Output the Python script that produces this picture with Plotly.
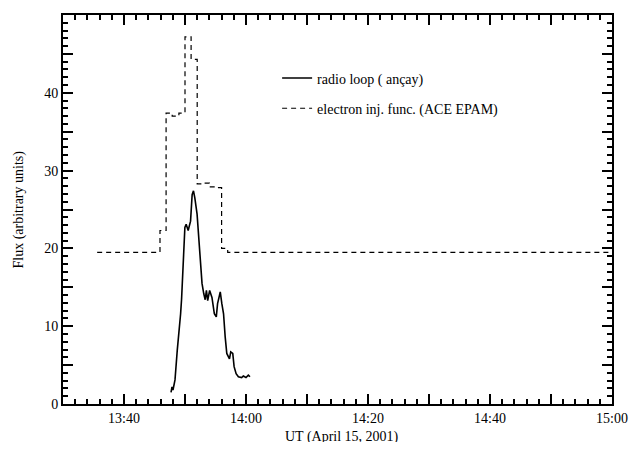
import pandas as pd
import plotly.graph_objects as go

# Time base: minutes after 13:00 UT on 2001-04-15
base = pd.Timestamp("2001-04-15 13:00:00")

# Radio loop flux (Nançay), solid curve
radio_min = [47.71, 47.87, 48.03, 48.36, 48.73, 49.01, 49.28, 49.44, 49.57, 49.66,
             49.82, 49.98, 50.19, 50.52, 50.91, 51.17, 51.39, 51.61, 51.98, 52.25,
             52.53, 52.79, 53.07, 53.31, 53.51, 53.72, 54.04, 54.42, 54.81, 55.13,
             55.34, 55.78, 56.04, 56.32, 56.59, 56.85, 57.29, 57.50, 57.83, 58.05,
             58.38, 58.75, 59.29, 59.56, 60.00, 60.38, 60.65]
radio_flux = [1.5, 2.2, 1.8, 3.1, 6.9, 9.1, 11.6, 13.5, 15.5, 18.0,
              21.0, 22.7, 23.1, 22.3, 23.5, 26.9, 27.4, 26.5, 24.4, 21.4,
              18.0, 15.5, 14.2, 13.4, 14.6, 13.3, 14.6, 13.7, 11.6, 11.2,
              12.9, 14.4, 12.9, 11.6, 8.6, 6.5, 5.8, 6.7, 6.5, 4.8,
              3.9, 3.5, 3.4, 3.6, 3.4, 3.7, 3.5]

# Electron injection function (ACE EPAM), step curve: value from each start time
epam_min = [35.6, 45.9, 46.9, 47.9, 49.0, 50.0, 51.0, 52.0, 53.0, 54.0, 55.0, 56.0, 57.0, 120.0]
epam_flux = [19.5, 22.3, 37.4, 37.0, 37.4, 47.2, 44.3, 28.3, 28.4, 27.9, 27.8, 20.0, 19.5, 19.5]

radio_t = [base + pd.Timedelta(minutes=m) for m in radio_min]
epam_t = [base + pd.Timedelta(minutes=m) for m in epam_min]

font = "Liberation Serif"
tfont = dict(family=font, size=14, color="black")

fig = go.Figure()
fig.add_trace(go.Scatter(
    x=radio_t, y=radio_flux, mode="lines", name="radio loop ( ançay)",
    legendgroup="a", line=dict(color="black", width=1.6)
))
fig.add_trace(go.Scatter(
    x=epam_t, y=epam_flux, mode="lines", name="electron inj. func. (ACE EPAM)",
    legendgroup="b", line=dict(color="black", width=1.2, dash="5px,4px", shape="hv")
))
# invisible copy on the overlay axes that carry the short (minor) ticks
fig.add_trace(go.Scatter(
    x=epam_t, y=epam_flux, xaxis="x2", yaxis="y2", mode="lines",
    line=dict(color="rgba(0,0,0,0)"), showlegend=False, hoverinfo="skip"
))

# Long ticks every 10 min / 5 units (labels every 20 min / 10 units), short every 2 min / 1 unit
x_mins = list(range(30, 121, 10))
x_ticks = [base + pd.Timedelta(minutes=m) for m in x_mins]
x_text = ["" if (m % 20) else f"{13 + m // 60}:{m % 60:02d}" for m in x_mins]
x_minor = [base + pd.Timedelta(minutes=m) for m in range(30, 121, 2)]
y_ticks = list(range(0, 51, 5))
y_text = [str(v) if v % 10 == 0 else "" for v in y_ticks]
y_minor = list(range(0, 51, 1))

x_range = [x_ticks[0], x_ticks[-1]]

fig.update_layout(
    width=625, height=434,
    margin=dict(l=55, r=16, t=5, b=38),
    paper_bgcolor="white", plot_bgcolor="white",
    font=tfont,
    xaxis=dict(
        type="date", range=x_range,
        tickmode="array", tickvals=x_ticks, ticktext=x_text,
        showline=True, linecolor="black", linewidth=2, mirror="allticks",
        ticks="inside", ticklen=10, tickwidth=2, tickcolor="black",
        showgrid=False, zeroline=False, tickfont=tfont,
    ),
    yaxis=dict(
        range=[0, 50],
        tickmode="array", tickvals=y_ticks, ticktext=y_text,
        showline=True, linecolor="black", linewidth=2, mirror="allticks",
        ticks="inside", ticklen=10, tickwidth=2, tickcolor="black",
        showgrid=False, zeroline=False, tickfont=tfont,
    ),
    xaxis2=dict(
        type="date", range=x_range, overlaying="x", anchor="y", side="bottom",
        tickmode="array", tickvals=x_minor, showticklabels=False,
        showline=False, mirror="allticks",
        ticks="inside", ticklen=5, tickwidth=2, tickcolor="black",
        showgrid=False, zeroline=False,
    ),
    yaxis2=dict(
        range=[0, 50], overlaying="y", anchor="x", side="left",
        tickmode="array", tickvals=y_minor, showticklabels=False,
        showline=False, mirror="allticks",
        ticks="inside", ticklen=5, tickwidth=2, tickcolor="black",
        showgrid=False, zeroline=False,
    ),
    legend=dict(x=0.39, y=0.878, xanchor="left", yanchor="top",
                bgcolor="rgba(0,0,0,0)", tracegroupgap=9, font=tfont),
    annotations=[
        dict(text="UT (April 15, 2001)", xref="paper", yref="paper", x=0.5, y=0,
             xanchor="center", yanchor="top", xshift=4, yshift=-23,
             showarrow=False, font=tfont),
        dict(text="Flux (arbitrary units)", xref="paper", yref="paper", x=0, y=0.5,
             xanchor="center", yanchor="middle", xshift=-45, textangle=-90,
             showarrow=False, font=tfont),
    ],
)

fig.write_html("out.html")
